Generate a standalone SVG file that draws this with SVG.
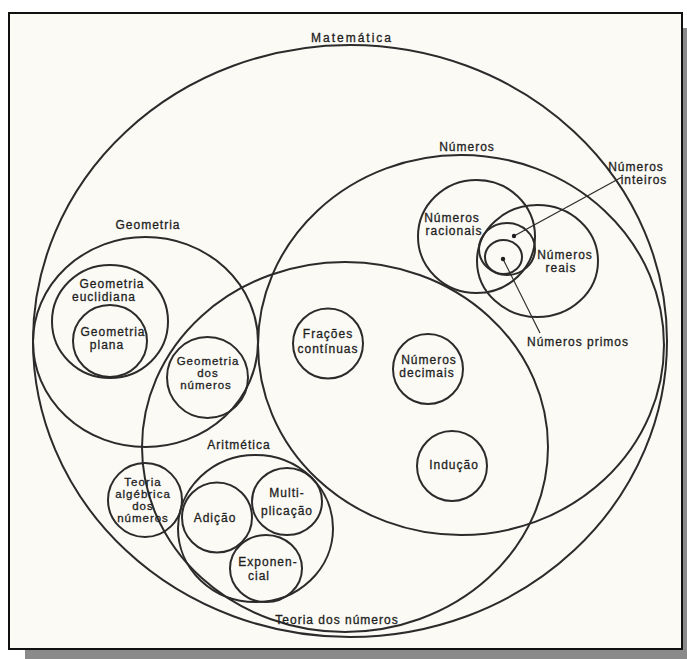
<svg xmlns="http://www.w3.org/2000/svg" width="687" height="659" viewBox="0 0 687 659">
  <style>
    .ring { fill: none; stroke: #2b2b2b; stroke-width: 2; }
    .lbl { font-family: "Liberation Sans", Arial, sans-serif; font-size: 12px; letter-spacing: 1px; fill: #1e1e1e; text-anchor: middle; stroke: #1e1e1e; stroke-width: 0.3; }
    .sm { font-size: 11.5px; }
    .lead { stroke: #2b2b2b; stroke-width: 1.2; fill: none; }
    .dot { fill: #1e1e1e; }
  </style>

  <!-- page, drop shadow and frame -->
  <rect x="0" y="0" width="687" height="659" fill="#ffffff"/>
  <rect x="25" y="28" width="662" height="631" fill="#8a8a8a"/>
  <rect x="9" y="13" width="673" height="636" fill="#fbfaf5" stroke="#111" stroke-width="2"/>

  <g id="matematica">
    <ellipse class="ring" cx="350" cy="341" rx="317" ry="296"/>
    <text class="lbl" x="352" y="42" style="letter-spacing:2px">Matemática</text>
  </g>

  <g id="numeros">
    <ellipse class="ring" cx="461" cy="345" rx="203" ry="190"/>
    <text class="lbl" x="467" y="151">Números</text>
  </g>

  <g id="teoria-dos-numeros">
    <ellipse class="ring" cx="345" cy="447" rx="203" ry="185"/>
    <text class="lbl" x="337" y="624">Teoria dos números</text>
  </g>

  <g id="geometria">
    <ellipse class="ring" cx="145.5" cy="342" rx="112.5" ry="105"/>
    <text class="lbl" x="148" y="229">Geometria</text>
  </g>

  <g id="geometria-euclidiana">
    <ellipse class="ring" cx="110" cy="321.5" rx="58" ry="56.5"/>
    <text class="lbl" x="112" y="288">Geometria</text>
    <text class="lbl" x="104" y="301">euclidiana</text>
  </g>

  <g id="geometria-plana">
    <ellipse class="ring" cx="110" cy="341" rx="37" ry="36"/>
    <text class="lbl" x="113" y="336">Geometria</text>
    <text class="lbl" x="107" y="349">plana</text>
  </g>

  <g id="geometria-dos-numeros">
    <circle class="ring" cx="207.5" cy="377.5" r="40.5"/>
    <text class="lbl sm" x="208" y="365">Geometria</text>
    <text class="lbl sm" x="208" y="377">dos</text>
    <text class="lbl sm" x="206" y="389">números</text>
  </g>

  <g id="fracoes-continuas">
    <circle class="ring" cx="328" cy="343.5" r="35"/>
    <text class="lbl" x="328" y="338">Frações</text>
    <text class="lbl" x="328" y="353">contínuas</text>
  </g>

  <g id="numeros-decimais">
    <circle class="ring" cx="428" cy="369" r="35"/>
    <text class="lbl" x="429" y="364">Números</text>
    <text class="lbl" x="427" y="377">decimais</text>
  </g>

  <g id="inducao">
    <circle class="ring" cx="452" cy="466" r="35"/>
    <text class="lbl" x="454" y="469">Indução</text>
  </g>

  <g id="numeros-racionais">
    <ellipse class="ring" cx="476.5" cy="236.5" rx="58.5" ry="56.5"/>
    <text class="lbl" x="452" y="222">Números</text>
    <text class="lbl" x="454" y="235">racionais</text>
  </g>

  <g id="numeros-reais">
    <ellipse class="ring" cx="537.5" cy="261" rx="60.5" ry="56"/>
    <text class="lbl" x="565" y="259">Números</text>
    <text class="lbl" x="561" y="272">reais</text>
  </g>

  <g id="numeros-inteiros">
    <ellipse class="ring" cx="507" cy="249" rx="28" ry="26"/>
    <text class="lbl" x="636" y="171">Números</text>
    <text class="lbl" x="644" y="184">inteiros</text>
  </g>

  <g id="numeros-primos">
    <ellipse class="ring" cx="503.5" cy="257" rx="18.5" ry="17"/>
    <text class="lbl" x="578" y="346">Números primos</text>
  </g>

  <g id="aritmetica">
    <ellipse class="ring" cx="255.5" cy="528.5" rx="77.5" ry="73.5"/>
    <text class="lbl" x="239" y="449">Aritmética</text>
  </g>

  <g id="adicao">
    <circle class="ring" cx="217" cy="517.5" r="35"/>
    <text class="lbl" x="215" y="522">Adição</text>
  </g>

  <g id="multiplicacao">
    <ellipse class="ring" cx="287" cy="501.5" rx="35" ry="33.5"/>
    <text class="lbl" x="287" y="497">Multi-</text>
    <text class="lbl" x="287" y="515">plicação</text>
  </g>

  <g id="exponencial">
    <ellipse class="ring" cx="266" cy="568.5" rx="36" ry="33.5"/>
    <text class="lbl" x="268" y="566">Exponen-</text>
    <text class="lbl" x="259" y="580">cial</text>
  </g>

  <g id="teoria-algebrica">
    <circle class="ring" cx="145" cy="500" r="37"/>
    <text class="lbl sm" x="143" y="486">Teoria</text>
    <text class="lbl sm" x="143" y="498">algébrica</text>
    <text class="lbl sm" x="143" y="510">dos</text>
    <text class="lbl sm" x="143" y="522">números</text>
  </g>

  <!-- leader lines from the two inner sets to their labels -->
  <g id="connectors">
    <line class="lead" x1="514" y1="236" x2="622" y2="177"/>
    <circle class="dot" cx="514" cy="236" r="2.2"/>
    <line class="lead" x1="503" y1="259" x2="540" y2="333"/>
    <circle class="dot" cx="503" cy="259" r="2.2"/>
  </g>
</svg>
